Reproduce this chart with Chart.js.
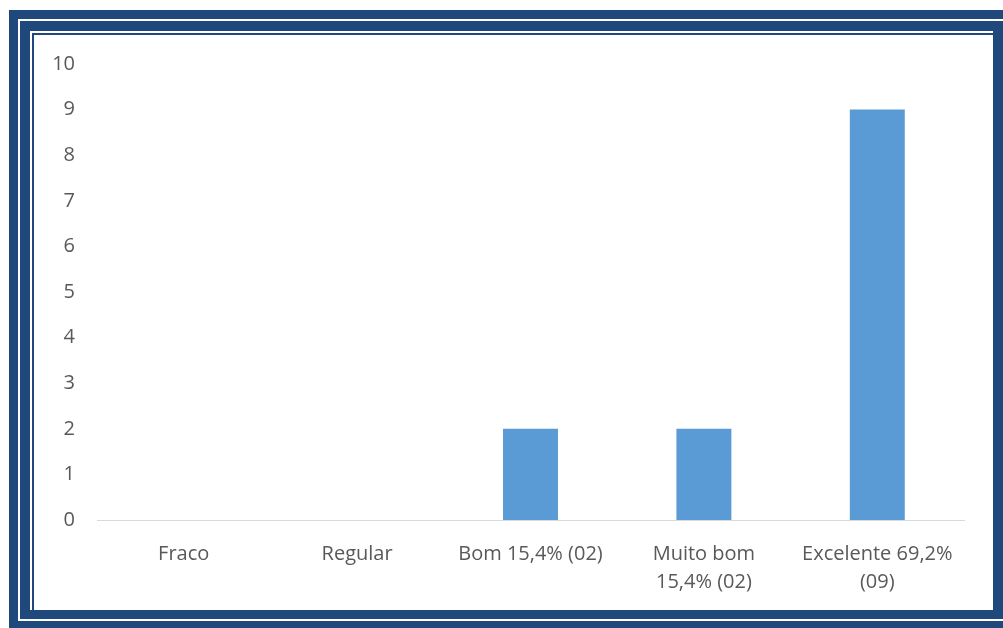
<!DOCTYPE html>
<html>
<head>
<meta charset="utf-8">
<script src="https://cdn.jsdelivr.net/npm/chart.js@4"></script>
<style>
  body { margin: 0; background: #fff; }
  .page { position: relative; width: 1003px; height: 628px; overflow: hidden; background: #fff; }
  .b { position: absolute; background: #1f497d; }
  .w { position: absolute; background: #fff; }
  #box { position: absolute; left: 34px; top: 35px; width: 959px; height: 575px; }
</style>
</head>
<body>
<div class="page">
  <!-- frame: outer band, white line, inner band, white line, thin line -->
  <div class="b" style="left:9px;top:10px;width:994px;height:618px"></div>
  <div class="w" style="left:18px;top:19px;width:985px;height:602px"></div>
  <div class="b" style="left:20px;top:21px;width:983px;height:598px"></div>
  <div class="w" style="left:30px;top:31px;width:963px;height:579px"></div>
  <div class="b" style="left:32px;top:33px;width:961px;height:577px"></div>
  <div class="w" style="left:34px;top:35px;width:959px;height:575px"></div>
  <div id="box"><canvas id="myChart" width="959" height="575"></canvas></div>
</div>
<script>
'use strict';
var categories = [
    'Fraco',
    'Regular',
    'Bom 15,4% (02)',
    ['Muito bom', '15,4% (02)'],
    ['Excelente 69,2%', '(09)']
];
var counts = [0, 0, 2, 2, 9];
var yTicks = [0, 1, 2, 3, 4, 5, 6, 7, 8, 9, 10];

var ctx = document.getElementById('myChart');
var myChart = new Chart(ctx, {
    type: 'bar',
    data: {
        labels: categories,
        datasets: [{
            data: counts,
            backgroundColor: '#5b9bd5',
            borderWidth: 0,
            barPercentage: 0.317,
            categoryPercentage: 1
        }]
    },
    options: {
        responsive: false,
        maintainAspectRatio: false,
        animation: false,
        layout: { padding: { top: 29, right: 29, left: 0, bottom: 0 } },
        plugins: { legend: { display: false }, tooltip: { enabled: false } },
        scales: {
            x: {
                grid: { display: false },
                border: { color: '#d9d9d9', width: 1 },
                ticks: {
                    color: '#595959',
                    font: { family: 'Open Sans', size: 20, lineHeight: 1.4 },
                    maxRotation: 0,
                    autoSkip: false,
                    padding: 12
                },
                afterFit: function (axis) { axis.height = 90; }
            },
            y: {
                min: 0,
                max: 10,
                grid: { display: false },
                border: { display: false },
                afterBuildTicks: function (axis) {
                    axis.ticks = yTicks.map(function (v) { return { value: v }; });
                },
                ticks: {
                    color: '#595959',
                    font: { family: 'Open Sans', size: 20 },
                    autoSkip: false,
                    padding: 14
                },
                afterFit: function (axis) { axis.width = 63; }
            }
        }
    }
});
</script>
</body>
</html>
